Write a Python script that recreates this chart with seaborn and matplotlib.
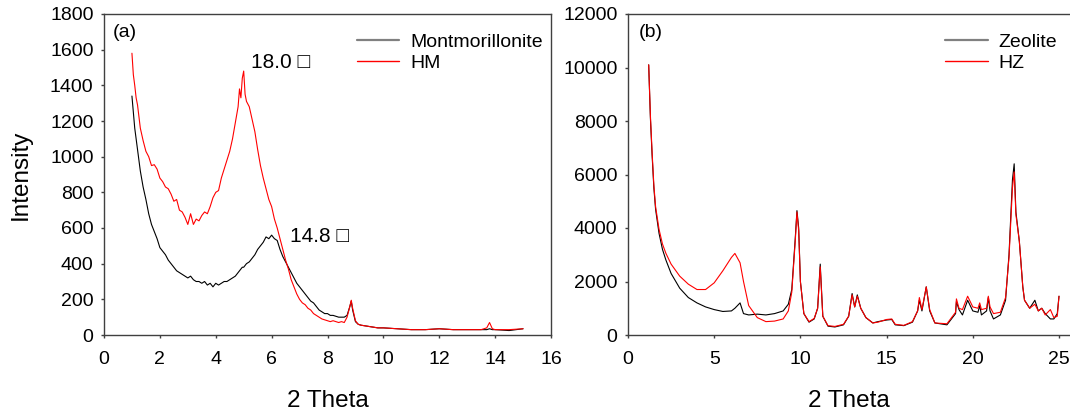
import matplotlib
matplotlib.use("Agg")

import numpy as np
import pandas as pd
import matplotlib.pyplot as plt
import seaborn as sns

# ===============================
# data
# ===============================
# panel (a): montmorillonite / HM
theta_a = [1.0, 1.05, 1.1, 1.15, 1.2, 1.3, 1.4, 1.5, 1.6, 1.7, 1.8, 1.9, 2.0, 2.1, 2.2, 2.3, 2.4, 2.5,
           2.6, 2.7, 2.8, 2.9, 3.0, 3.1, 3.2, 3.3, 3.4, 3.5, 3.6, 3.7, 3.8, 3.9, 4.0, 4.1, 4.2, 4.3,
           4.4, 4.5, 4.6, 4.7, 4.8, 4.85, 4.9, 4.95, 5.0, 5.05, 5.1, 5.2, 5.3, 5.4, 5.5, 5.6, 5.7,
           5.8, 5.9, 6.0, 6.1, 6.2, 6.3, 6.4, 6.5, 6.6, 6.7, 6.8, 6.9, 7.0, 7.1, 7.2, 7.3, 7.4, 7.5,
           7.6, 7.7, 7.8, 7.9, 8.0, 8.1, 8.2, 8.3, 8.4, 8.5, 8.6, 8.7, 8.8, 8.85, 8.9, 9.0, 9.1, 9.2,
           9.4, 9.6, 9.8, 10.0, 10.5, 11.0, 11.5, 12.0, 12.5, 13.0, 13.5, 13.7, 13.8, 13.9, 14.0,
           14.5, 15.0]
montmorillonite = [1340, 1250, 1160, 1100, 1040, 920, 830, 760, 680, 620, 580, 540, 490, 470, 450, 420,
                   400, 380, 360, 350, 340, 330, 320, 330, 310, 300, 300, 290, 300, 280, 290, 270,
                   290, 280, 290, 300, 300, 310, 320, 330, 350, 360, 370, 380, 380, 390, 400, 410,
                   430, 450, 480, 500, 520, 550, 540, 560, 540, 530, 480, 440, 410, 380, 350, 320,
                   290, 270, 250, 230, 210, 190, 180, 160, 140, 130, 120, 120, 110, 110, 105, 100,
                   100, 100, 110, 160, 190, 140, 75, 60, 55, 50, 45, 40, 40, 35, 30, 30, 35, 30, 30,
                   30, 30, 35, 30, 30, 25, 35]
hm = [1580, 1460, 1400, 1330, 1290, 1160, 1090, 1030, 1000, 950, 955, 930, 880, 860, 830, 820, 790,
      750, 760, 700, 690, 660, 620, 680, 620, 650, 640, 670, 690, 680, 720, 770, 800, 810, 880, 930,
      980, 1030, 1100, 1190, 1280, 1380, 1330, 1440, 1480, 1350, 1310, 1280, 1210, 1140, 1040, 950,
      880, 820, 760, 720, 650, 600, 540, 480, 420, 370, 310, 270, 230, 200, 180, 170, 150, 140, 120,
      110, 100, 90, 85, 80, 75, 80, 75, 70, 75, 70, 100, 160, 195, 150, 80, 60, 55, 50, 45, 40, 40,
      35, 30, 30, 35, 30, 30, 30, 40, 70, 35, 30, 30, 35]

# panel (b): zeolite / HZ
theta_b = [1.2, 1.3, 1.4, 1.5, 1.6, 1.8, 2.0, 2.2, 2.5, 3.0, 3.5, 4.0, 4.5, 5.0, 5.5, 6.0, 6.2, 6.5,
           6.7, 7.0, 7.5, 8.0, 8.5, 9.0, 9.3, 9.5, 9.7, 9.8, 9.9, 10.0, 10.2, 10.5, 10.8, 11.0, 11.15,
           11.3, 11.6, 12.0, 12.5, 12.8, 13.0, 13.15, 13.3, 13.5, 13.8, 14.2, 14.5, 15.0, 15.3, 15.5,
           16.0, 16.5, 16.8, 16.9, 17.05, 17.3, 17.5, 17.8, 18.5, 19.0, 19.05, 19.2, 19.4, 19.7,
           20.0, 20.3, 20.4, 20.5, 20.8, 20.9, 21.0, 21.2, 21.6, 21.9, 22.1, 22.3, 22.4, 22.5, 22.7,
           22.9, 23.0, 23.3, 23.6, 23.8, 24.0, 24.2, 24.5, 24.7, 24.9, 25.0]
zeolite = [10100, 8100, 6700, 5500, 4700, 3800, 3200, 2800, 2300, 1750, 1400, 1200, 1050, 950, 880,
           900, 1000, 1200, 800, 750, 780, 750, 800, 900, 1150, 1700, 3600, 4650, 4000, 2000, 800,
           480, 600, 1000, 2650, 700, 330, 300, 380, 700, 1550, 1050, 1500, 1000, 650, 450, 500, 560,
           580, 380, 350, 480, 900, 1300, 900, 1800, 900, 450, 380, 800, 1250, 950, 750, 1300, 900,
           850, 1100, 750, 900, 1400, 900, 600, 750, 1300, 3000, 5800, 6400, 4600, 3500, 1800, 1300,
           1000, 1300, 900, 1000, 800, 600, 600, 800, 1450]
hz = [10100, 8200, 6800, 5600, 4800, 3950, 3400, 3050, 2650, 2200, 1900, 1700, 1700, 1950, 2400,
      2900, 3050, 2700, 2000, 1100, 650, 500, 520, 600, 900, 1600, 3500, 4600, 3900, 2000, 800, 500,
      620, 1000, 2550, 700, 350, 320, 400, 700, 1500, 1050, 1450, 1000, 650, 450, 480, 580, 600, 400,
      360, 500, 900, 1400, 950, 1800, 950, 450, 420, 850, 1350, 1000, 950, 1450, 1050, 1000, 1200,
      950, 1000, 1450, 1050, 800, 850, 1400, 2900, 5500, 6100, 4500, 3500, 1800, 1300, 1000, 1150,
      900, 1000, 750, 950, 650, 700, 1450]

df_a = pd.concat([
    pd.DataFrame({'theta': theta_a, 'intensity': montmorillonite, 'sample': 'Montmorillonite'}),
    pd.DataFrame({'theta': theta_a, 'intensity': hm, 'sample': 'HM'}),
])
df_b = pd.concat([
    pd.DataFrame({'theta': theta_b, 'intensity': zeolite, 'sample': 'Zeolite'}),
    pd.DataFrame({'theta': theta_b, 'intensity': hz, 'sample': 'HZ'}),
])

# ===============================
# style
# ===============================
sns.set_style("ticks")
plt.rcParams['font.family'] = ['Liberation Sans', 'DejaVu Sans']
plt.rcParams['text.color'] = 'black'
plt.rcParams['axes.labelcolor'] = 'black'

W, H = 1070, 417
fig = plt.figure(figsize=(W / 100, H / 100), dpi=100)
ax1 = fig.add_axes([104 / W, (H - 335) / H, (551 - 104) / W, 321 / H])
ax2 = fig.add_axes([628 / W, (H - 335) / H, (1070 - 628) / W, 321 / H])

pal_a = {'Montmorillonite': 'black', 'HM': 'red'}
pal_b = {'Zeolite': 'black', 'HZ': 'red'}

sns.lineplot(data=df_a, x='theta', y='intensity', hue='sample', palette=pal_a,
             estimator=None, sort=False, lw=0.8, ax=ax1)
sns.lineplot(data=df_b, x='theta', y='intensity', hue='sample', palette=pal_b,
             estimator=None, sort=False, lw=0.8, ax=ax2)

leg_kw = dict(loc='upper left', frameon=False, fontsize=14, handlelength=2.2,
              handletextpad=0.55, labelspacing=0.18, borderpad=0, borderaxespad=0)

# ----- panel (a)
ax1.set_xlim(0, 16)
ax1.set_ylim(0, 1800)
ax1.set_xticks(range(0, 17, 2))
ax1.set_yticks(range(0, 1801, 200))
ax1.set_xlabel('2 Theta', fontsize=17.5, labelpad=16)
ax1.set_ylabel('Intensity', fontsize=17.5, labelpad=13)
ax1.text(0.02, 0.943, '(a)', transform=ax1.transAxes, fontsize=14, va='center')
ax1.text(5.25, 1530, '18.0 \u25a1', fontsize=15, va='center')
ax1.text(6.65, 555, '14.8 \u25a1', fontsize=15, va='center')
leg1 = ax1.legend(bbox_to_anchor=(0.565, 0.94), **leg_kw)

# ----- panel (b)
ax2.set_xlim(0, 25 * (1070 - 628) / (1059 - 628))
ax2.set_ylim(0, 12000)
ax2.set_xticks(range(0, 26, 5))
ax2.set_yticks(range(0, 12001, 2000))
ax2.set_xlabel('2 Theta', fontsize=17.5, labelpad=16)
ax2.set_ylabel('')
ax2.spines['right'].set_visible(False)
ax2.text(0.025, 0.943, '(b)', transform=ax2.transAxes, fontsize=14, va='center')
leg2 = ax2.legend(bbox_to_anchor=(0.717, 0.94), **leg_kw)

# legend handle for the black trace looks grey and a bit thicker in the reference
for leg in (leg1, leg2):
    lines = leg.get_lines()
    lines[0].set_color('#808080')
    lines[0].set_linewidth(1.6)
    lines[1].set_linewidth(1.0)

for ax in (ax1, ax2):
    ax.tick_params(axis='both', direction='out', length=2.5, width=1.0, labelsize=14,
                   colors='#404040', labelcolor='black', top=False, right=False)
    ax.tick_params(axis='x', pad=9)
    ax.tick_params(axis='y', pad=5)
    for s in ax.spines.values():
        s.set_color('#404040')
        s.set_linewidth(1.0)

fig.savefig('out.png', dpi=100)
plt.close(fig)
